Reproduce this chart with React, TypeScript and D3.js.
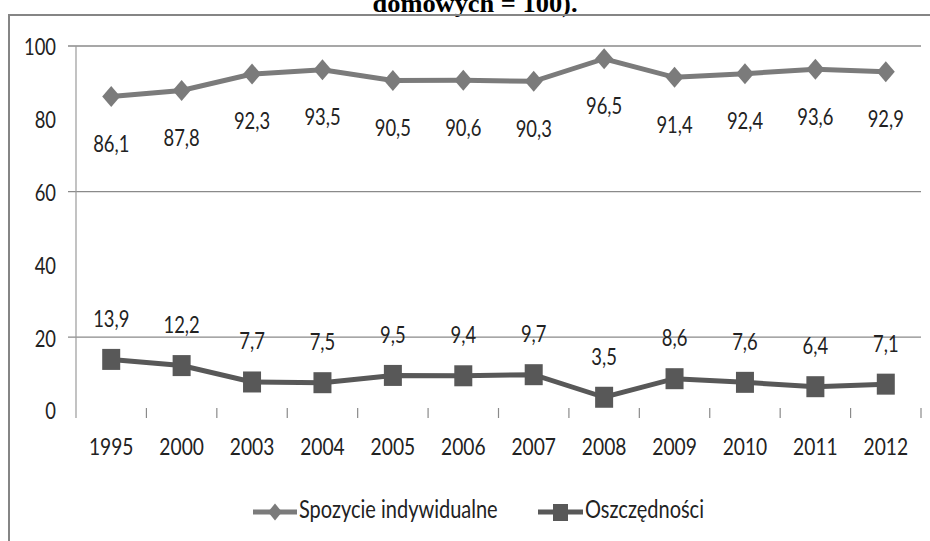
import React from "react";
import * as d3 from "d3";

const years = ["1995", "2000", "2003", "2004", "2005", "2006", "2007", "2008", "2009", "2010", "2011", "2012"];
const spozycie = [86.1, 87.8, 92.3, 93.5, 90.5, 90.6, 90.3, 96.5, 91.4, 92.4, 93.6, 92.9];
const oszczednosci = [13.9, 12.2, 7.7, 7.5, 9.5, 9.4, 9.7, 3.5, 8.6, 7.6, 6.4, 7.1];
const yTicks = [0, 20, 40, 60, 80, 100];
const gridValues = [20, 60, 100];
const seriesNames = ["Spozycie indywidualne", "Oszczędności"];
const titleText = "domowych = 100).";

const W = 930;
const H = 541;
const FONT = "Lato, 'Open Sans', sans-serif";
const SX = 0.8;

const fmt = (v: number) => v.toFixed(1).replace(".", ",");

function T({ x, y, children, anchor = "middle", size = 23, fill = "#222" }: any) {
  return (
    <text
      transform={`translate(${x},${y}) scale(${SX},1)`}
      textAnchor={anchor}
      dominantBaseline="central"
      fontFamily={FONT}
      fontSize={size}
      fill={fill}
    >
      {children}
    </text>
  );
}

const diamond = (cx: number, cy: number, w = 9, h = 10.5) =>
  `M${cx},${cy - h}L${cx + w},${cy}L${cx},${cy + h}L${cx - w},${cy}Z`;

export default function App() {
  const x = d3.scaleBand<string>().domain(years).range([76, 921]);
  const y = d3.scaleLinear().domain([0, 100]).range([410, 46]);
  const cx = (d: string) => (x(d) as number) + x.bandwidth() / 2;

  const line = d3
    .line<number>()
    .x((_, i) => cx(years[i]))
    .y((v) => y(v));

  const c1 = "#7b7b7b";
  const c2 = "#585858";

  return (
    <svg width={W} height={H} style={{ position: "absolute", left: 0, top: 0, background: "#fff" }}>
      <rect x={0} y={0} width={W} height={H} fill="#fff" />
      {/* title (cut off at the top, as in the reference) */}
      <text
        x={475}
        y={12}
        textAnchor="middle"
        fontFamily="'Liberation Serif', 'Times New Roman', serif"
        fontWeight="bold"
        fontSize={26}
        textLength={205}
        lengthAdjust="spacingAndGlyphs"
        fill="#000"
      >
        {titleText}
      </text>
      {/* frame */}
      <rect x={9} y={15} width={W + 20} height={H + 20} fill="none" stroke="#858585" strokeWidth={2} />

      {/* gridlines */}
      {gridValues.map((v) => (
        <line key={v} x1={68} x2={921} y1={y(v)} y2={y(v)} stroke="#8a8a8a" strokeWidth={1.3} />
      ))}
      {/* y axis */}
      <line x1={76} x2={76} y1={y(100)} y2={418} stroke="#9a9a9a" strokeWidth={1.2} />
      {yTicks.map((v) => (
        <T key={v} x={56} y={y(v)} anchor="end">
          {v}
        </T>
      ))}
      {/* x ticks */}
      {years.map((d) => (
        <line
          key={d}
          x1={(x(d) as number) + x.bandwidth()}
          x2={(x(d) as number) + x.bandwidth()}
          y1={408}
          y2={418}
          stroke="#8a8a8a"
          strokeWidth={1.2}
        />
      ))}
      {years.map((d) => (
        <T key={d} x={cx(d)} y={446} size={24}>
          {d}
        </T>
      ))}

      {/* series 1 */}
      <path d={line(spozycie) || ""} fill="none" stroke={c1} strokeWidth={5} />
      {spozycie.map((v, i) => (
        <path key={i} d={diamond(cx(years[i]), y(v))} fill={c1} />
      ))}
      {spozycie.map((v, i) => (
        <T key={i} x={cx(years[i])} y={y(v) + 46}>
          {fmt(v)}
        </T>
      ))}

      {/* series 2 */}
      <path d={line(oszczednosci) || ""} fill="none" stroke={c2} strokeWidth={5} />
      {oszczednosci.map((v, i) => (
        <rect key={i} x={cx(years[i]) - 9} y={y(v) - 10.5} width={18} height={21} fill={c2} />
      ))}
      {oszczednosci.map((v, i) => (
        <T key={i} x={cx(years[i])} y={y(v) - 42}>
          {fmt(v)}
        </T>
      ))}

      {/* legend */}
      <g>
        <line x1={253} x2={297} y1={512} y2={512} stroke={c1} strokeWidth={5} />
        <path d={diamond(275, 512, 7, 8.5)} fill={c1} />
        <T x={299} y={509} anchor="start" size={25}>
          {seriesNames[0]}
        </T>
        <line x1={538} x2={583} y1={512} y2={512} stroke={c2} strokeWidth={5} />
        <rect x={553} y={504} width={15} height={17} fill={c2} />
        <T x={585} y={509} anchor="start" size={25}>
          {seriesNames[1]}
        </T>
      </g>
    </svg>
  );
}
